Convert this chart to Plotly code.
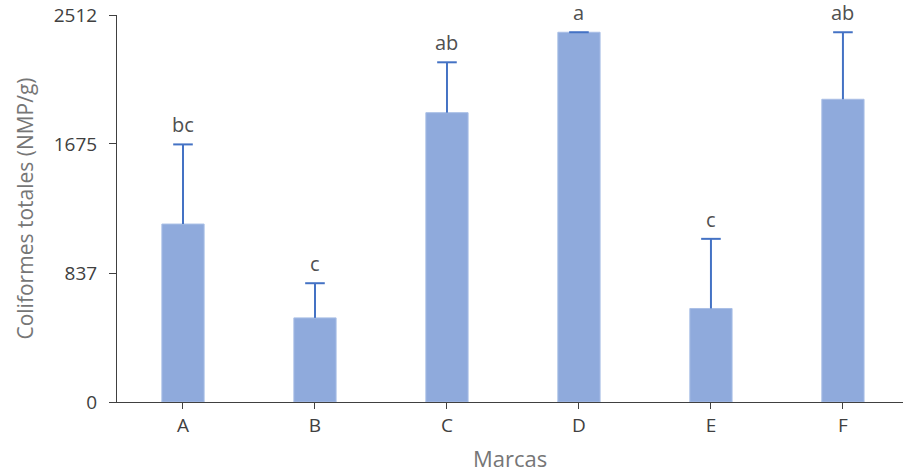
import plotly.graph_objects as go

# Coliformes totales por marca (media y desviación)
marcas = ["A", "B", "C", "D", "E", "F"]
media = [1155, 546, 1878, 2400, 607, 1965]
desviacion = [517, 225, 327, 0, 452, 435]
letras = ["bc", "c", "ab", "a", "c", "ab"]
y_ticks = [0, 837, 1675, 2512]

FONT = "Open Sans"
ERR_COLOR = "#4472C4"

fig = go.Figure()
fig.add_trace(go.Bar(
    x=marcas, y=media, width=0.32,
    marker=dict(color="#8FAADC", line=dict(color="#A9BFE6", width=1)),
    showlegend=False, hoverinfo="x+y",
))

# Upper error bars only: a stem from the bar top plus a cap at the top
ex, ey = [], []
for m, v, d in zip(marcas, media, desviacion):
    ex += [m, m, None]
    ey += [v, v + d, None]
fig.add_trace(go.Scatter(
    x=ex, y=ey, mode="lines", line=dict(color=ERR_COLOR, width=2),
    showlegend=False, hoverinfo="skip",
))
fig.add_trace(go.Scatter(
    x=marcas, y=[v + d for v, d in zip(media, desviacion)], mode="markers",
    marker=dict(symbol="line-ew", size=14, line=dict(color=ERR_COLOR, width=2)),
    showlegend=False, hoverinfo="skip",
))

for m, v, d, t in zip(marcas, media, desviacion, letras):
    fig.add_annotation(x=m, y=v + d, text=t, showarrow=False, yanchor="bottom",
                       yshift=4, font=dict(family=FONT, size=20, color="#505050"))

fig.update_layout(
    width=903, height=474,
    margin=dict(l=117, r=0, t=15, b=72),
    plot_bgcolor="white", paper_bgcolor="white",
    font=dict(family=FONT, size=20, color="#404040"),
)
fig.update_xaxes(
    range=[-0.5, 5.455], showline=True, linecolor="#404040", linewidth=1,
    ticks="outside", ticklen=6, tickcolor="#404040", showgrid=False,
    tickfont=dict(size=19),
    title=dict(text="Marcas", font=dict(family=FONT, size=22, color="#767676"), standoff=14),
)
fig.update_yaxes(
    range=[0, 2512], tickvals=y_ticks, ticktext=[str(v) for v in y_ticks],
    showline=True, linecolor="#404040", linewidth=1, ticks="outside", ticklen=7,
    tickcolor="#404040", showgrid=False, zeroline=False,
    tickfont=dict(size=19), ticklabelstandoff=8,
    title=dict(text="Coliformes totales (NMP/g)", font=dict(family=FONT, size=21, color="#767676"), standoff=14),
)

fig.write_html("out.html")
